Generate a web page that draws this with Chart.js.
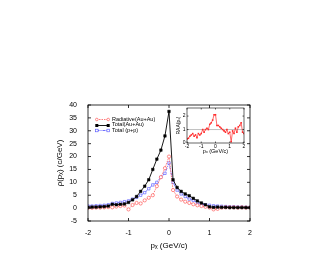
<!DOCTYPE html>
<html>
<head>
<meta charset="utf-8">
<script src="https://cdn.jsdelivr.net/npm/chart.js@4.4.0/dist/chart.umd.min.js"></script>
<style>
  body { margin: 0; background: #fff; }
  #wrap { position: relative; width: 319px; height: 277px; }
  #main { position: absolute; left: 0; top: 0; }
  #inset { position: absolute; left: 164px; top: 102px; }
  #legend { position: absolute; left: 95px; top: 117px; font: 5.5px "Liberation Sans", Arial, sans-serif; color: #000; line-height: 5.4px; }
  #legend div { display: flex; align-items: center; white-space: nowrap; }
  #legend svg { margin-right: 2px; }
</style>
</head>
<body>
<div id="wrap">
  <canvas id="main" width="319" height="277"></canvas>
  <canvas id="inset" width="86" height="57"></canvas>
  <div id="legend">
    <div><svg width="15" height="5"><line x1="1.5" y1="2.5" x2="13.5" y2="2.5" stroke="#ff5a5a" stroke-width="0.8" stroke-dasharray="1.5,1"/><circle cx="1.8" cy="2.5" r="1.3" fill="#fff" stroke="#ff5a5a" stroke-width="0.7"/><circle cx="13.2" cy="2.5" r="1.3" fill="#fff" stroke="#ff5a5a" stroke-width="0.7"/></svg>Radiative(Au+Au)</div>
    <div><svg width="15" height="5"><line x1="1.5" y1="2.5" x2="13.5" y2="2.5" stroke="#000" stroke-width="0.9"/><rect x="0.3" y="1" width="3" height="3" fill="#000"/><rect x="11.7" y="1" width="3" height="3" fill="#000"/></svg>Total(Au+Au)</div>
    <div><svg width="15" height="5"><line x1="1.5" y1="2.5" x2="13.5" y2="2.5" stroke="#4d4dff" stroke-width="0.8" stroke-dasharray="3,1,1,1"/><rect x="0.5" y="1.2" width="2.6" height="2.6" fill="#fff" stroke="#4d4dff" stroke-width="0.6"/><rect x="11.9" y="1.2" width="2.6" height="2.6" fill="#fff" stroke="#4d4dff" stroke-width="0.6"/></svg>Total (p+p)</div>
  </div>
</div>
<script>
// p_x grid (GeV/c)
var px = [-2.0, -1.9, -1.8, -1.7, -1.6, -1.5, -1.4, -1.3, -1.2, -1.1, -1.0,
          -0.9, -0.8, -0.7, -0.6, -0.5, -0.4, -0.3, -0.2, -0.1, 0.0,
          0.1, 0.2, 0.3, 0.4, 0.5, 0.6, 0.7, 0.8, 0.9, 1.0,
          1.1, 1.2, 1.3, 1.4, 1.5, 1.6, 1.7, 1.8, 1.9, 2.0];

var totalAuAu = [0.3, 0.4, 0.4, 0.5, 0.6, 0.8, 1.5, 1.3, 1.5, 1.6, 2.2,
                 3.2, 4.5, 6.5, 8.5, 11, 15, 19, 22.5, 28, 37.5,
                 11, 8, 6.5, 5.5, 4.8, 3.8, 2.8, 2, 1.3, 0.5,
                 0.3, 0.4, 0.3, 0.3, 0.2, 0.2, 0.2, 0.2, 0.2, 0.2];

var radiativeAuAu = [0.1, 0.1, 0.2, 0.2, 0.3, 0.4, 0.3, 0.6, 0.8, 1.0, -0.5,
                     1.2, 2.0, 1.8, 3, 4, 5, 8.5, 12, 15.5, 20,
                     7, 4.5, 3.3, 2.5, 2, 1.5, 1.1, 0.8, 0.5, 0.2,
                     -0.5, -0.3, 0.2, 0.3, 0.3, 0.3, 0.2, 0.3, 0.2, 0.2];

var totalPP = [0.8, 0.8, 0.9, 1.0, 1.1, 1.3, 1.8, 2.0, 2.2, 2.5, 2.8,
               3.5, 4.2, 5, 6, 7.5, 9, 10, 12, 13.5, 17.5,
               10, 7, 5.5, 4.5, 3.5, 3, 2.2, 1.6, 1.3, 1.1,
               0.9, 0.8, 0.7, 0.6, 0.5, 0.5, 0.4, 0.4, 0.3, 0.3];

// inset: R_AA(p_x)
var raa = [0.3, 0.35, 0.5, 0.6, 0.7, 0.5, 0.6, 0.4, 0.7, 0.6, 0.7,
           1.0, 0.8, 1.0, 1.1, 1.0, 1.4, 1.5, 1.7, 2.1, 2.1,
           1.3, 1.3, 1.2, 1.1, 1.0, 0.9, 0.8, 1.0, 0.7, 0.8,
           0.1, 0.9, 0.7, 1.1, 0.8, 1.2, 1.3, 1.5, 0.8, 0.7];
var raaRef = 1;

var xTicks = [-2, -1, 0, 1, 2];
var yTicks = [-5, 0, 5, 10, 15, 20, 25, 30, 35, 40];
var insetYTicks = [0, 1, 2];

function pts(ys) {
    return px.map(function (x, i) { return { x: x, y: ys[i] }; });
}

// box frame with inward ticks on all four sides
var framePlugin = {
    id: 'frame',
    afterDatasetsDraw: function (chart, args, opts) {
        var ctx = chart.ctx, a = chart.chartArea;
        var xs = chart.scales.x, ys = chart.scales.y;
        var len = opts.len || 3;
        ctx.save();
        ctx.strokeStyle = '#000';
        ctx.lineWidth = opts.width || 0.8;
        ctx.strokeRect(a.left, a.top, a.right - a.left, a.bottom - a.top);
        ctx.beginPath();
        xs.ticks.forEach(function (t) {
            var p = xs.getPixelForValue(t.value);
            ctx.moveTo(p, a.bottom); ctx.lineTo(p, a.bottom - len);
            ctx.moveTo(p, a.top); ctx.lineTo(p, a.top + len);
        });
        ys.ticks.forEach(function (t) {
            var p = ys.getPixelForValue(t.value);
            ctx.moveTo(a.left, p); ctx.lineTo(a.left + len, p);
            ctx.moveTo(a.right, p); ctx.lineTo(a.right - len, p);
        });
        ctx.stroke();
        ctx.restore();
    }
};

var font = "'Liberation Sans', Arial, sans-serif";

// Main chart
var chart1 = document.getElementById('main');
var myChart1 = new Chart(chart1, {
    type: 'line',
    data: {
        datasets: [{
            label: 'Total(Au+Au)',
            data: pts(totalAuAu),
            borderColor: '#000',
            backgroundColor: '#000',
            borderWidth: 0.9,
            pointStyle: 'rect',
            pointRadius: 1.8,
            pointBorderWidth: 0.5
        }, {
            label: 'Radiative(Au+Au)',
            data: pts(radiativeAuAu),
            borderColor: '#ff5a5a',
            backgroundColor: '#fff',
            borderWidth: 0.8,
            borderDash: [1.5, 1],
            pointStyle: 'circle',
            pointRadius: 1.6,
            pointBorderWidth: 0.7
        }, {
            label: 'Total (p+p)',
            data: pts(totalPP),
            borderColor: '#4d4dff',
            backgroundColor: '#fff',
            borderWidth: 0.8,
            borderDash: [3, 1, 1, 1],
            pointStyle: 'rect',
            pointRadius: 1.7,
            pointBorderWidth: 0.6
        }]
    },
    options: {
        responsive: false,
        animation: false,
        layout: { padding: { left: 55, top: 105, right: 69, bottom: 26 } },
        scales: {
            x: {
                type: 'linear', min: -2, max: 2,
                afterBuildTicks: function (s) { s.ticks = xTicks.map(function (v) { return { value: v }; }); },
                afterFit: function (s) { s.height = 30; },
                grid: { display: false },
                border: { display: false },
                ticks: { font: { family: font, size: 7 }, color: '#000', padding: 0, maxRotation: 0 },
                title: { display: true, text: 'pₓ (GeV/c)', font: { family: font, size: 8 }, color: '#000', padding: 0 }
            },
            y: {
                min: -5, max: 40,
                afterBuildTicks: function (s) { s.ticks = yTicks.map(function (v) { return { value: v }; }); },
                afterFit: function (s) { s.width = 33; },
                grid: { display: false },
                border: { display: false },
                ticks: { font: { family: font, size: 7 }, color: '#000', padding: 3 },
                title: { display: true, text: 'ρ(pₓ) (c/GeV)', font: { family: font, size: 8 }, color: '#000', padding: 0 }
            }
        },
        plugins: {
            legend: { display: false },
            tooltip: { enabled: false },
            frame: { len: 3, width: 0.8 }
        }
    },
    plugins: [framePlugin]
});

// Inset chart
var chart2 = document.getElementById('inset');
var myChart2 = new Chart(chart2, {
    type: 'line',
    data: {
        datasets: [{
            data: pts(raa),
            borderColor: '#ff2a2a',
            backgroundColor: '#ff2a2a',
            borderWidth: 0.7,
            pointStyle: 'rect',
            pointRadius: 1.1,
            pointBorderWidth: 0
        }, {
            data: [{ x: -2, y: raaRef }, { x: 2, y: raaRef }],
            borderColor: '#b0b0b0',
            borderWidth: 0.8,
            pointRadius: 0
        }]
    },
    options: {
        responsive: false,
        animation: false,
        layout: { padding: { left: 12, top: 6, right: 6, bottom: 4 } },
        scales: {
            x: {
                type: 'linear', min: -2, max: 2,
                afterBuildTicks: function (s) { s.ticks = xTicks.map(function (v) { return { value: v }; }); },
                afterFit: function (s) { s.height = 12; },
                grid: { display: false, drawTicks: false, tickLength: 0 },
                border: { display: false },
                ticks: { font: { family: font, size: 5 }, color: '#000', padding: 1, maxRotation: 0, autoSkip: false },
                title: { display: true, text: 'pₓ (GeV/c)', font: { family: font, size: 5.5 }, color: '#000', padding: 0 }
            },
            y: {
                min: 0, max: 2.6,
                afterBuildTicks: function (s) { s.ticks = insetYTicks.map(function (v) { return { value: v }; }); },
                afterFit: function (s) { s.width = 11; },
                grid: { display: false, drawTicks: false, tickLength: 0 },
                border: { display: false },
                ticks: { font: { family: font, size: 5 }, color: '#000', padding: 1.5, autoSkip: false },
                title: { display: true, text: 'RAA(pₓ)', font: { family: font, size: 5 }, color: '#000', padding: 0 }
            }
        },
        plugins: {
            legend: { display: false },
            tooltip: { enabled: false },
            frame: { len: 1.5, width: 0.6 }
        }
    },
    plugins: [framePlugin]
});
</script>
</body>
</html>
